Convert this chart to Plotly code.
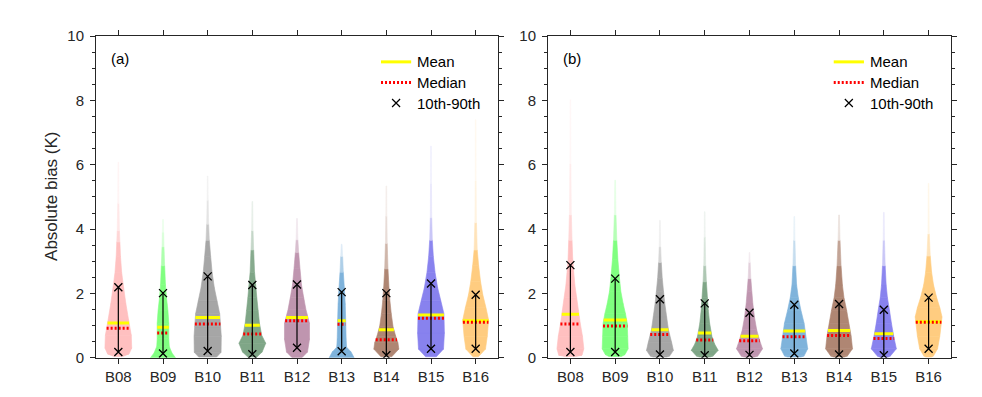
import plotly.graph_objects as go
import numpy as np

# ---------------- data ----------------
CATEGORIES = ["B08", "B09", "B10", "B11", "B12", "B13", "B14", "B15", "B16"]
Y_TICKS = [0, 2, 4, 6, 8, 10]

MEAN_A = [1.08, 0.95, 1.25, 1.01, 1.25, 1.15, 0.87, 1.33, 1.15]
MEDIAN_A = [0.92, 0.77, 1.05, 0.74, 1.15, 1.04, 0.56, 1.23, 1.10]
P10_A = [0.18, 0.13, 0.21, 0.11, 0.31, 0.20, 0.08, 0.28, 0.28]
P90_A = [2.19, 2.01, 2.53, 2.26, 2.28, 2.04, 2.01, 2.31, 1.96]

MEAN_B = [1.35, 1.17, 0.87, 0.77, 0.67, 0.83, 0.85, 0.75, 1.12]
MEDIAN_B = [1.05, 0.99, 0.72, 0.55, 0.53, 0.65, 0.69, 0.60, 1.10]
P10_B = [0.18, 0.18, 0.10, 0.08, 0.09, 0.13, 0.10, 0.08, 0.28]
P90_B = [2.88, 2.46, 1.82, 1.69, 1.40, 1.65, 1.67, 1.49, 1.87]

# violin density profiles: (absolute bias, half width) from bottom to top
PROFILE_A = [
    [(0.04, 0.10), (0.12, 0.24), (0.30, 0.30), (0.70, 0.29), (1.17, 0.23), (1.67, 0.17), (2.17, 0.12),
     (2.65, 0.075), (3.15, 0.048), (3.60, 0.035), (3.95, 0.025), (4.80, 0.014), (6.08, 0.008)],
    [(0.00, 0.28), (0.15, 0.20), (0.35, 0.14), (0.60, 0.13), (1.07, 0.13), (1.47, 0.11), (1.87, 0.078),
     (2.27, 0.055), (2.86, 0.037), (3.45, 0.022), (3.90, 0.014), (4.30, 0.008)],
    [(0.02, 0.20), (0.17, 0.30), (0.67, 0.305), (0.97, 0.29), (1.37, 0.27), (1.77, 0.21), (2.17, 0.15),
     (2.65, 0.10), (3.15, 0.067), (3.65, 0.037), (4.15, 0.022), (4.90, 0.012), (5.65, 0.008)],
    [(0.02, 0.10), (0.18, 0.22), (0.45, 0.30), (0.70, 0.21), (1.07, 0.16), (1.47, 0.13), (1.87, 0.10),
     (2.27, 0.075), (2.65, 0.05), (3.35, 0.03), (3.95, 0.016), (4.86, 0.008)],
    [(0.00, 0.11), (0.18, 0.235), (0.58, 0.28), (1.07, 0.28), (1.50, 0.20), (1.87, 0.15), (2.27, 0.10),
     (2.77, 0.067), (3.27, 0.037), (3.67, 0.02), (4.33, 0.008)],
    [(0.00, 0.28), (0.18, 0.21), (0.33, 0.11), (0.58, 0.10), (1.17, 0.09), (1.67, 0.08), (2.17, 0.06),
     (2.66, 0.037), (3.15, 0.022), (3.53, 0.008)],
    [(0.03, 0.12), (0.27, 0.28), (0.47, 0.26), (0.67, 0.21), (0.97, 0.15), (1.37, 0.11), (1.77, 0.08),
     (2.17, 0.06), (2.76, 0.037), (3.55, 0.02), (4.40, 0.012), (5.34, 0.008)],
    [(0.03, 0.12), (0.27, 0.28), (0.77, 0.30), (1.37, 0.29), (1.77, 0.22), (2.17, 0.15), (2.66, 0.09),
     (3.15, 0.052), (3.65, 0.03), (4.35, 0.016), (5.40, 0.01), (6.58, 0.008)],
    [(0.03, 0.06), (0.27, 0.22), (0.67, 0.26), (1.17, 0.29), (1.56, 0.23), (1.96, 0.16), (2.36, 0.11),
     (2.86, 0.067), (3.35, 0.035), (4.20, 0.018), (5.50, 0.01), (7.40, 0.008)],
]

PROFILE_B = [
    [(0.04, 0.12), (0.08, 0.26), (0.28, 0.30), (0.67, 0.27), (1.07, 0.22), (1.47, 0.18), (1.87, 0.14),
     (2.26, 0.10), (2.66, 0.075), (3.06, 0.052), (3.65, 0.037), (4.44, 0.022), (6.03, 0.011), (8.02, 0.008)],
    [(0.04, 0.14), (0.10, 0.22), (0.28, 0.29), (0.67, 0.28), (1.07, 0.27), (1.37, 0.23), (1.67, 0.18),
     (2.06, 0.127), (2.46, 0.097), (3.06, 0.06), (3.65, 0.037), (4.44, 0.018), (5.52, 0.008)],
    [(0.02, 0.15), (0.06, 0.22), (0.23, 0.30), (0.48, 0.26), (0.87, 0.19), (1.27, 0.15), (1.67, 0.11),
     (2.06, 0.08), (2.46, 0.052), (2.96, 0.03), (3.45, 0.016), (4.27, 0.008)],
    [(0.02, 0.12), (0.06, 0.19), (0.23, 0.30), (0.43, 0.22), (0.67, 0.16), (1.07, 0.11), (1.47, 0.08),
     (1.87, 0.06), (2.36, 0.037), (2.86, 0.022), (3.75, 0.011), (4.54, 0.008)],
    [(0.02, 0.12), (0.06, 0.19), (0.28, 0.29), (0.57, 0.22), (0.87, 0.16), (1.27, 0.11), (1.67, 0.075),
     (2.06, 0.052), (2.46, 0.03), (2.96, 0.015), (3.27, 0.008)],
    [(0.02, 0.15), (0.06, 0.22), (0.28, 0.30), (0.67, 0.26), (1.07, 0.22), (1.47, 0.15), (1.87, 0.09),
     (2.26, 0.052), (2.86, 0.03), (3.65, 0.015), (4.39, 0.008)],
    [(0.02, 0.12), (0.06, 0.19), (0.28, 0.30), (0.67, 0.27), (1.07, 0.22), (1.47, 0.17), (1.87, 0.11),
     (2.26, 0.075), (2.86, 0.045), (3.65, 0.022), (4.44, 0.008)],
    [(0.02, 0.10), (0.06, 0.15), (0.28, 0.28), (0.67, 0.22), (1.07, 0.17), (1.47, 0.127), (1.87, 0.08),
     (2.26, 0.052), (2.86, 0.03), (3.65, 0.015), (4.52, 0.008)],
    [(0.02, 0.06), (0.06, 0.11), (0.28, 0.20), (0.67, 0.25), (1.27, 0.30), (1.56, 0.25), (1.87, 0.18),
     (2.26, 0.11), (2.66, 0.067), (3.16, 0.037), (3.85, 0.015), (5.42, 0.008)],
]

COLORS = ["#FFC0C0", "#80FF80", "#A6A6A6", "#7FA687", "#BF95AF",
          "#7FB3DB", "#AF8673", "#8882EE", "#FFCC80"]

# ---------------- style ----------------
W, H = 982, 397
FONT = "Liberation Sans, Arial, Helvetica, sans-serif"
AXC = "#262626"
FADE_W = 0.042
X_DOMAINS = [(88 / W, 490 / W), (540 / W, 943 / W)]
Y_DOMAIN = (1 - 356 / H, 1 - 20 / H)


def blend(hexc, a):
    r, g, b = int(hexc[1:3], 16), int(hexc[3:5], 16), int(hexc[5:7], 16)
    r = round(r * a + 255 * (1 - a))
    g = round(g * a + 255 * (1 - a))
    b = round(b * a + 255 * (1 - a))
    return f"rgb({r},{g},{b})"


fig = go.Figure()


def add_panel(k, profiles, means, medians, p10, p90):
    xa = "x" if k == 0 else "x2"
    ya = "y" if k == 0 else "y2"
    for i, prof in enumerate(profiles):
        ys = [p[0] for p in prof]
        ws = [p[1] for p in prof]
        for j in range(len(prof) - 1):
            y0, y1, w0, w1 = ys[j], ys[j + 1], ws[j], ws[j + 1]
            a = max(0.07, min(1.0, ((w0 + w1) / 2 / FADE_W) ** 1.3))
            col = blend(COLORS[i], a)
            fig.add_trace(go.Scatter(
                x=[i - w0, i + w0, i + w1, i - w1, i - w0],
                y=[y0, y0, y1, y1, y0],
                fill="toself", fillcolor=col, mode="lines",
                line=dict(color=col, width=0.6),
                hoverinfo="skip", showlegend=False, xaxis=xa, yaxis=ya))
        wm = float(np.interp(means[i], ys, ws))
        fig.add_trace(go.Scatter(
            x=[i - wm, i + wm], y=[means[i], means[i]], mode="lines",
            line=dict(color="#FFFF00", width=3), hoverinfo="skip",
            showlegend=False, xaxis=xa, yaxis=ya))
        wd = float(np.interp(medians[i], ys, ws))
        fig.add_trace(go.Scatter(
            x=[i - wd, i + wd], y=[medians[i], medians[i]], mode="lines",
            line=dict(color="#FF0000", width=3, dash="2px,2px"), hoverinfo="skip",
            showlegend=False, xaxis=xa, yaxis=ya))
        fig.add_trace(go.Scatter(
            x=[i, i], y=[p10[i], p90[i]], mode="lines+markers",
            line=dict(color="black", width=1.2),
            marker=dict(symbol="x-thin", size=8, line=dict(color="black", width=1.3)),
            hoverinfo="skip", showlegend=False, xaxis=xa, yaxis=ya))

    # legend (drawn inside each panel)
    xd = xa + " domain"
    yd = ya + " domain"
    lx0, lx1, tx = 0.709, 0.784, 0.793
    ly = [0.92, 0.856, 0.792]
    fig.add_shape(type="line", xref=xd, yref=yd, x0=lx0, x1=lx1, y0=ly[0], y1=ly[0],
                  line=dict(color="#FFFF00", width=3))
    fig.add_shape(type="line", xref=xd, yref=yd, x0=lx0, x1=lx1, y0=ly[1], y1=ly[1],
                  line=dict(color="#FF0000", width=3, dash="2px,2px"))
    fig.add_trace(go.Scatter(
        x=[-0.5 + 9 * (lx0 + lx1) / 2], y=[10 * ly[2]], mode="markers",
        marker=dict(symbol="x-thin", size=8, line=dict(color="black", width=1.2)),
        hoverinfo="skip", showlegend=False, xaxis=xa, yaxis=ya))
    for lab, yy in zip(["Mean", "Median", "10th-90th"], ly):
        fig.add_annotation(xref=xd, yref=yd, x=tx, y=yy, text=lab, showarrow=False,
                           xanchor="left", yanchor="middle",
                           font=dict(family=FONT, size=15, color="#000000"))
    fig.add_annotation(xref=xd, yref=yd, x=0.032, y=0.929, text="(a)" if k == 0 else "(b)",
                       showarrow=False, xanchor="left", yanchor="middle",
                       font=dict(family=FONT, size=15, color="#000000"))


add_panel(0, PROFILE_A, MEAN_A, MEDIAN_A, P10_A, P90_A)
add_panel(1, PROFILE_B, MEAN_B, MEDIAN_B, P10_B, P90_B)

xaxis_style = dict(
    range=[-0.5, 8.5], tickmode="array", tickvals=list(range(len(CATEGORIES))),
    ticktext=CATEGORIES, ticks="outside", ticklen=5, tickwidth=1, tickcolor=AXC,
    showline=True, linecolor=AXC, linewidth=1, mirror="ticks", showgrid=False,
    zeroline=False, tickfont=dict(family=FONT, size=15, color=AXC), fixedrange=True,
)
yaxis_style = dict(
    range=[0, 10], tickmode="array", tickvals=Y_TICKS, ticks="outside", ticklen=5,
    tickwidth=1, tickcolor=AXC, showline=True, linecolor=AXC, linewidth=1,
    mirror="ticks", showgrid=False, zeroline=False,
    minor=dict(dtick=0.5, ticks="outside", ticklen=3, tickcolor=AXC, showgrid=False),
    tickfont=dict(family=FONT, size=15, color=AXC), ticklabelstandoff=3, fixedrange=True,
    domain=list(Y_DOMAIN),
)

fig.update_layout(
    width=W, height=H, margin=dict(l=0, r=0, t=0, b=0),
    paper_bgcolor="white", plot_bgcolor="white", showlegend=False,
    xaxis=dict(xaxis_style, domain=list(X_DOMAINS[0]), anchor="y"),
    yaxis=dict(yaxis_style, anchor="x"),
    xaxis2=dict(xaxis_style, domain=list(X_DOMAINS[1]), anchor="y2"),
    yaxis2=dict(yaxis_style, anchor="x2"),
)

fig.add_annotation(xref="paper", yref="paper", x=44 / W, y=1 - 188 / H,
                   text="Absolute bias (K)", textangle=-90, showarrow=False,
                   xanchor="center", yanchor="middle",
                   font=dict(family=FONT, size=17, color=AXC))

fig.write_html("out.html")
